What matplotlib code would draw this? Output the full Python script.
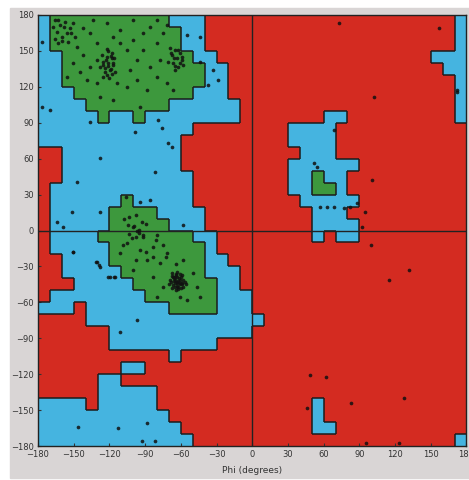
import numpy as np
import matplotlib.pyplot as plt
from matplotlib.colors import ListedColormap
from matplotlib.collections import LineCollection
from matplotlib.patches import Rectangle

# region map, 10 degree cells, one row per psi band from +180 down to -180
# r = disallowed, b = allowed, g = favoured ; run-length "letter count"
region_rows = [
    "b1 g10 b3 r21 b1",
    "b1 g11 b2 r21 b1",
    "b1 g11 b2 r21 b1",
    "b2 g11 b2 r18 b3",
    "b2 g12 b2 r18 b2",
    "b2 g12 b2 r19 b1",
    "b3 g10 b3 r19 b1",
    "b4 g7 b6 r18 b1",
    "b5 g1 b2 g1 b8 r7 b2 r9 b1",
    "b13 r8 b4 r11",
    "b12 r9 b4 r11",
    "r2 b10 r10 b3 r11",
    "r2 b10 r9 b6 r9",
    "r2 b11 r8 b2 g1 b2 r10",
    "r1 b12 r8 b2 g2 b1 r10",
    "r1 b6 g1 b5 r9 b5 r9",
    "r1 b5 g4 b4 r9 b3 r10",
    "r1 b5 g5 b3 r9 b4 r9",
    "r1 b4 g8 b2 r8 b1 r1 b2 r9",
    "r1 b5 g8 b1 r21",
    "r2 b4 g8 b2 r20",
    "r2 b5 g7 b3 r19",
    "r3 b5 g7 b2 r19",
    "r1 b8 g6 b3 r18",
    "b3 r1 b7 g4 b3 r18",
    "r4 b15 r17",
    "r6 b12 r18",
    "r6 b9 r21",
    "r11 b1 r24",
    "r7 b2 r27",
    "r5 b2 r29",
    "r5 b5 r26",
    "b4 r1 b5 r13 b1 r12",
    "b11 r12 b1 r12",
    "b12 r11 b2 r11",
    "b13 r22 b1",
]

# residues (phi, psi) in degrees
phi_pts = [
    -165.7, -161.5, -157.3, -153.1, -164.3, -160.1, -155.9, -150.3, -162.9, -154.5, -148.9, -167.1,
    -158.0, -163.0, -152.0, -160.0, -166.0,
    -126.5, -122.3, -118.1, -125.1, -120.9, -116.7, -127.9, -123.7, -119.5, -122.3, -115.3, -125.1, -118.1, -130.7,
    -121.0, -119.0, -123.0, -117.0, -121.0, -124.0, -118.0, -120.0, -122.0, -116.0, -125.0, -119.0,
    -69.0, -64.8, -60.6, -67.6, -63.4, -59.2, -70.4, -66.2, -62.0, -64.8, -57.8,
    -62.0, -66.0, -61.0, -65.0, -59.0, -68.0,
    -141.9, -136.3, -130.7, -116.7, -111.1, -99.8, -91.4, -85.8, -80.2, -74.6, -141.9, -150.3, -144.7,
    -139.1, -130.7, -113.9, -105.4, -97.0, -88.6, -80.2, -71.8, -66.2, -127.9, -116.7, -94.2, -147.5,
    -105.4, -97.0, -85.8, -77.4, -80.2, -71.8, -155.9, -136.3, -102.6, -111.1, -91.4, -133.5, -122.3, -99.8,
    -176.9, -176.9, -169.9, -136.3, -127.9, -98.4, -78.8, -76.0, -70.4, -67.6, -81.6, -147.5, -151.7,
    -127.9, -164.3, -158.7, -55.0, -43.8, -43.8, -32.6, -28.4, -36.8, -57.8, -85.8, -94.2,
    -150.9, -131.2, -128.4, -121.4, -115.8,
    -106.0, -107.4, -97.6, -100.4, -94.8, -97.6, -92.0, -103.2, -89.2, -80.8, -75.2, -108.8, -89.2, -83.6,
    -72.4, -97.6, -64.0, -103.2,
    -99.0, -95.0, -101.0, -93.0, -97.0, -104.0,
    -67.6, -63.4, -59.2, -69.0, -64.8, -60.6, -56.4, -66.2, -62.0, -57.8, -63.4, -59.2, -67.6,
    -65.0, -61.5, -63.0, -66.5, -61.0, -64.0,
    -62.0, -65.0, -60.0, -66.0, -63.0, -59.0, -68.0, -61.0, -64.0, -58.0, -67.0, -62.0, -65.0, -60.0,
    -70.0, -56.0, -63.0, -61.0, -66.0, -64.0,
    -105.5, -94.2, -83.0, -88.6, -77.4, -99.8, -83.0, -74.6, -80.2, -60.6, -55.0, -43.8, -46.6, -49.4,
    -71.8, -111.1, -57.8, -91.4, -80.2,
    -150.3, -130.7, -127.9, -119.5, -115.3, -97.0, -111.1, -146.1, -112.5, -88.6, -92.8, -81.6,
    72.6, 102.0, 156.7, 172.1, 68.4, 51.6, 54.4, 57.2, 62.8, 68.4, 76.8, 82.4, 88.0, 100.6, 95.0, 92.2,
    99.5, 114.9, 131.7, 61.7, 82.7, 127.5, 95.3, 123.3, 48.8, 46.0, 172.4,
]
psi_pts = [
    175.8, 171.6, 174.4, 168.9, 166.1, 161.9, 164.7, 173.0, 156.3, 157.7, 161.9, 170.2,
    170.0, 176.0, 165.0, 158.0, 160.0,
    146.6, 145.2, 143.8, 141.0, 139.6, 138.2, 136.8, 135.4, 134.0, 129.9, 132.7, 128.5, 148.0, 142.4,
    150.0, 146.0, 142.0, 140.0, 137.0, 132.0, 131.0, 127.0, 152.0, 144.0, 138.0, 135.0,
    152.1, 150.8, 148.0, 146.6, 143.8, 142.4, 141.0, 139.6, 136.8, 134.0, 138.2,
    151.0, 144.0, 140.0, 137.0, 145.0, 148.0,
    168.9, 164.7, 156.3, 161.9, 167.5, 159.1, 164.7, 170.2, 156.3, 164.7, 146.6, 139.6, 132.7,
    125.7, 122.9, 122.9, 120.1, 125.7, 117.3, 128.5, 122.9, 117.3, 111.8, 109.0, 103.4, 153.5,
    150.8, 142.4, 136.8, 142.4, 175.8, 171.6, 128.5, 136.8, 134.0, 156.3, 150.8, 175.8, 173.0, 175.8,
    157.7, 103.4, 100.6, 90.9, 60.2, 82.5, 92.3, 85.3, 72.8, 70.0, 49.1, 40.8, 15.7,
    15.7, 7.3, 3.1, 163.3, 161.9, 141.0, 134.0, 125.7, 121.5, 4.5, 25.4, 24.0,
    -18.0, -26.3, -29.1, -38.9, -38.9,
    28.0, 9.9, 12.7, 2.9, 0.1, -5.4, -4.0, -2.7, 5.7, -8.2, -12.4, -12.4, -18.0, -22.2,
    -22.2, -24.9, -27.7, 11.3,
    4.0, -2.0, -6.0, 7.0, 0.0, 5.0,
    -35.8, -34.4, -37.2, -41.4, -41.4, -41.4, -42.8, -45.6, -47.0, -47.0, -38.6, -44.2, -48.3,
    -39.0, -40.0, -43.5, -38.5, -45.0, -36.5,
    -42.0, -44.0, -39.0, -40.0, -46.0, -45.0, -43.0, -36.0, -37.0, -41.0, -38.0, -49.0, -47.0, -48.0,
    -45.0, -45.0, -43.0, -44.0, -42.0, -50.0,
    -10.7, -16.3, -13.5, -24.7, -27.5, -33.0, -38.6, -47.0, -55.3, -55.3, -58.1, -55.3, -47.0, -35.8,
    -19.1, -19.1, -24.7, -5.2, -3.8,
    -17.7, -26.1, -30.2, -38.6, -38.6, -74.8, -84.5, -163.9, -165.3, -161.1, -175.6, -175.6,
    173.0, 111.8, 168.9, 117.3, 83.9, 56.1, 53.3, 19.9, 19.9, 19.9, 18.5, 19.9, 22.7, 42.1, 15.7, 3.2,
    -12.2, -41.4, -33.1, -122.2, -144.5, -140.3, -177.9, -177.9, -120.8, -148.6, 115.9,
]

xtick_vals = list(range(-180, 181, 30))
ytick_vals = list(range(-180, 181, 30))

codes = {"r": 0, "b": 1, "g": 2}
grid = []
for row in region_rows:
    cells = []
    for tok in row.split():
        cells += [codes[tok[0]]] * int(tok[1:])
    assert len(cells) == 36, row
    grid.append(cells)
grid = np.array(grid)

phi_edges = np.arange(-180, 181, 10)
psi_edges = np.arange(180, -181, -10)

fig = plt.figure(figsize=(4.69, 4.80), dpi=100)
fig.patches.append(Rectangle((10 / 469, 2 / 480), 459 / 469, 470 / 480,
                             transform=fig.transFigure, color="#d9d5d5", zorder=-5))
ax = fig.add_axes([38 / 469, 34 / 480, 428.4 / 469, 431 / 480])

cmap = ListedColormap(["#d42b21", "#45b4e0", "#3d983d"])
ax.pcolormesh(phi_edges, psi_edges, grid, cmap=cmap, vmin=-0.5, vmax=2.5)

# outlines between different regions
segs = []
nr, nc = grid.shape
for r in range(nr):
    for c in range(nc):
        if c + 1 < nc and grid[r, c] != grid[r, c + 1]:
            segs.append([(phi_edges[c + 1], psi_edges[r]), (phi_edges[c + 1], psi_edges[r + 1])])
        if r + 1 < nr and grid[r, c] != grid[r + 1, c]:
            segs.append([(phi_edges[c], psi_edges[r + 1]), (phi_edges[c + 1], psi_edges[r + 1])])
ax.add_collection(LineCollection(segs, colors="#1c1c1c", linewidths=1.1))

ax.axhline(0, color="#222222", lw=1.0)
ax.axvline(0, color="#222222", lw=1.0)

ax.scatter(phi_pts, psi_pts, s=7, color="#111111", alpha=0.85, linewidths=0, zorder=5)

ax.set_xlim(-180, 180)
ax.set_ylim(-180, 180)
ax.set_xticks(xtick_vals)
ax.set_yticks(ytick_vals)
ax.tick_params(labelsize=6, colors="#333333", length=2, direction="in", pad=3)
ax.set_xlabel("Phi (degrees)", fontsize=6.5, color="#333333", labelpad=5)
for s in ax.spines.values():
    s.set_color("#222222")
    s.set_linewidth(1.0)

fig.savefig("out.png", dpi=100)
